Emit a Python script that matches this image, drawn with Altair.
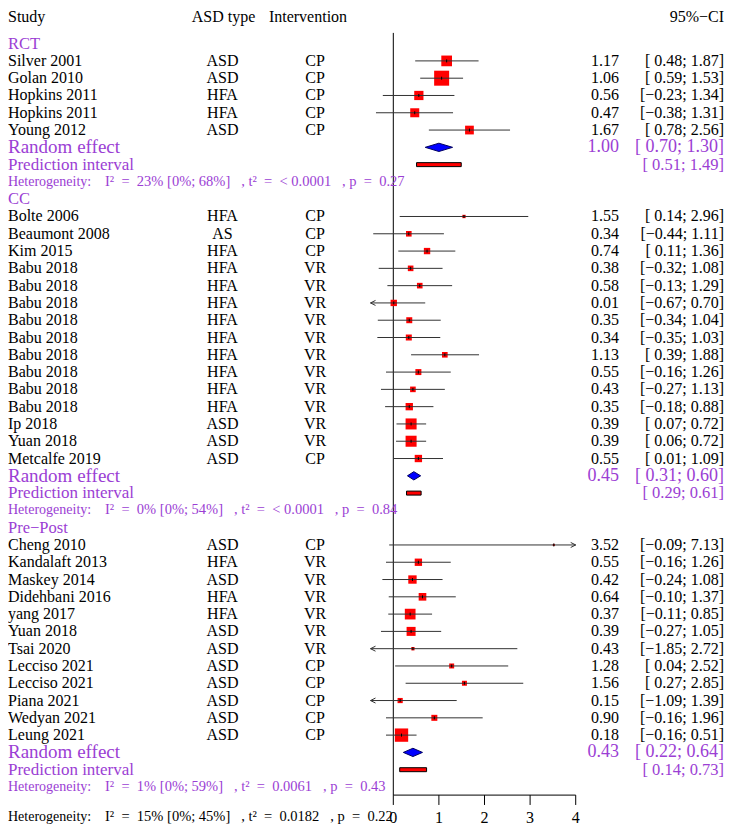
import altair as alt
import pandas as pd

# ---------------- data ----------------
groups = ["RCT", "CC", "Pre\u2212Post"]

studies = [
    "Silver 2001", "Golan 2010", "Hopkins 2011", "Hopkins 2011", "Young 2012",
    "Bolte 2006", "Beaumont 2008", "Kim 2015", "Babu 2018", "Babu 2018", "Babu 2018",
    "Babu 2018", "Babu 2018", "Babu 2018", "Babu 2018", "Babu 2018", "Babu 2018",
    "Ip 2018", "Yuan 2018", "Metcalfe 2019",
    "Cheng 2010", "Kandalaft 2013", "Maskey 2014", "Didehbani 2016", "yang 2017",
    "Yuan 2018", "Tsai 2020", "Lecciso 2021", "Lecciso 2021", "Piana 2021",
    "Wedyan 2021", "Leung 2021",
]
group_of = ["RCT"] * 5 + ["CC"] * 15 + ["Pre\u2212Post"] * 12
asd_type = [
    "ASD", "ASD", "HFA", "HFA", "ASD",
    "HFA", "AS", "HFA", "HFA", "HFA", "HFA", "HFA", "HFA", "HFA", "HFA", "HFA", "HFA",
    "ASD", "ASD", "ASD",
    "ASD", "HFA", "ASD", "HFA", "HFA", "ASD", "ASD", "ASD", "ASD", "ASD", "ASD", "ASD",
]
intervention = [
    "CP", "CP", "CP", "CP", "CP",
    "CP", "CP", "CP", "VR", "VR", "VR", "VR", "VR", "VR", "VR", "VR", "VR",
    "VR", "VR", "CP",
    "CP", "VR", "VR", "VR", "VR", "VR", "VR", "CP", "CP", "CP", "CP", "CP",
]
smd = [1.17, 1.06, 0.56, 0.47, 1.67,
       1.55, 0.34, 0.74, 0.38, 0.58, 0.01, 0.35, 0.34, 1.13, 0.55, 0.43, 0.35,
       0.39, 0.39, 0.55,
       3.52, 0.55, 0.42, 0.64, 0.37, 0.39, 0.43, 1.28, 1.56, 0.15, 0.90, 0.18]
ci_low = [0.48, 0.59, -0.23, -0.38, 0.78,
          0.14, -0.44, 0.11, -0.32, -0.13, -0.67, -0.34, -0.35, 0.39, -0.16, -0.27, -0.18,
          0.07, 0.06, 0.01,
          -0.09, -0.16, -0.24, -0.10, -0.11, -0.27, -1.85, 0.04, 0.27, -1.09, -0.16, -0.16]
ci_high = [1.87, 1.53, 1.34, 1.31, 2.56,
           2.96, 1.11, 1.36, 1.08, 1.29, 0.70, 1.04, 1.03, 1.88, 1.26, 1.13, 0.88,
           0.72, 0.72, 1.09,
           7.13, 1.26, 1.08, 1.37, 0.85, 1.05, 2.72, 2.52, 2.85, 1.39, 1.96, 0.51]
weights = [5.1, 10.0, 3.8, 3.6, 3.4,
           0.5, 1.4, 1.8, 1.4, 1.4, 1.8, 1.6, 1.6, 1.4, 1.6, 1.4, 2.4,
           5.4, 5.4, 2.4,
           0.2, 2.4, 3.1, 2.6, 5.1, 3.6, 0.5, 1.1, 1.1, 1.2, 1.6, 7.9]

pooled_est = [1.00, 0.45, 0.43]
pooled_low = [0.70, 0.31, 0.22]
pooled_high = [1.30, 0.60, 0.64]
pi_low = [0.51, 0.29, 0.14]
pi_high = [1.49, 0.61, 0.73]
het_i2 = ["23% [0%; 68%]", "0% [0%; 54%]", "1% [0%; 59%]"]
het_tau2 = ["< 0.0001", "< 0.0001", "0.0061"]
het_p = ["0.27", "0.84", "0.43"]
overall_i2 = "15% [0%; 45%]"
overall_tau2 = "0.0182"
overall_p = "0.22"
axis_ticks = [0, 1, 2, 3, 4]

# ---------------- helpers ----------------
NB = "\u00a0"
PURPLE = "#9b3ed4"
FONT = "Liberation Serif"
CLIP_LO, CLIP_HI = -0.5, 4.0


def fmt(v):
    return f"{v:.2f}".replace("-", "\u2212")


def fmt_ci(lo, hi):
    return "[" + (" " if lo >= 0 else "") + fmt(lo) + "; " + fmt(hi) + "]"


def het_stats(i2, t2, p):
    eq = NB * 2 + "=" + NB * 2
    return ("I\u00b2" + eq + i2 + NB * 3 + "," + NB + "t\u00b2" + eq + t2
            + NB * 3 + "," + NB + "p" + eq + p)


# ---------------- row layout ----------------
study_rows, label_rows, random_rows, pi_rows, het_rows = [], [], [], [], []
r = 0
for g in groups:
    label_rows.append(r)
    r += 1
    for i, gg in enumerate(group_of):
        if gg == g:
            study_rows.append(r)
            r += 1
    random_rows.append(r)
    r += 1
    pi_rows.append(r)
    r += 1
    het_rows.append(r)
    r += 1

HEADER_ROW = -1.55
AXIS_ROW = 43.47
TICK_END = 44.04
AXIS_LABEL_ROW = 44.8
OVERALL_ROW = 44.75
ZERO_TOP = -0.62

st = pd.DataFrame({
    "study": studies, "asd": asd_type, "intv": intervention,
    "est": smd, "lo": ci_low, "hi": ci_high, "w": weights, "row": study_rows,
})
st["lo_c"] = st["lo"].clip(lower=CLIP_LO)
st["hi_c"] = st["hi"].clip(upper=CLIP_HI)
st["est_txt"] = st["est"].map(fmt)
st["ci_txt"] = [fmt_ci(a, b) for a, b in zip(st["lo"], st["hi"])]

pooled = pd.DataFrame({
    "group": groups, "est": pooled_est, "lo": pooled_low, "hi": pooled_high,
    "plo": pi_low, "phi": pi_high, "row": random_rows, "prow": pi_rows,
})
pooled["est_txt"] = pooled["est"].map(fmt)
pooled["ci_txt"] = [fmt_ci(a, b) for a, b in zip(pooled["lo"], pooled["hi"])]
pooled["pi_txt"] = [fmt_ci(a, b) for a, b in zip(pooled["plo"], pooled["phi"])]
pooled["prow_lo"] = pooled["prow"] - 0.115
pooled["prow_hi"] = pooled["prow"] + 0.115

# diamond polygon points built from pooled estimates
dia = []
for _, p in pooled.iterrows():
    dia.append({"group": p["group"], "x": p["lo"], "y1": p["row"], "y2": p["row"]})
    dia.append({"group": p["group"], "x": p["est"], "y1": p["row"] - 0.24, "y2": p["row"] + 0.24})
    dia.append({"group": p["group"], "x": p["hi"], "y1": p["row"], "y2": p["row"]})
dia = pd.DataFrame(dia)

# ---------------- scales ----------------
W, H = 717, 819
xs = alt.Scale(domain=[-8.4496, 7.274], nice=False, zero=False)
ys = alt.Scale(domain=[-2.0023, 45.257], nice=False, zero=False, reverse=True)


def X(f):
    return alt.X(f, type="quantitative", scale=xs, axis=None)


def Y(f):
    return alt.Y(f, type="quantitative", scale=ys, axis=None)


def X2(f):
    return alt.X2(f)


def Y2(f):
    return alt.Y2(f)


def text_layer(df, field, x_px, align, size, color, row_field="row"):
    return alt.Chart(df).mark_text(
        align=align, baseline="middle", font=FONT, fontSize=size, color=color,
    ).encode(x=alt.value(x_px), y=Y(row_field), text=alt.Text(field, type="nominal"))


layers = []

# zero line and axis
zero_df = pd.DataFrame({"x": [0], "y1": [ZERO_TOP], "y2": [AXIS_ROW]})
layers.append(alt.Chart(zero_df).mark_rule(color="black", strokeWidth=1).encode(
    x=X("x"), y=Y("y1"), y2=Y2("y2")))
ax_df = pd.DataFrame({"x1": [min(axis_ticks)], "x2": [max(axis_ticks)], "y": [AXIS_ROW]})
layers.append(alt.Chart(ax_df).mark_rule(color="black", strokeWidth=1).encode(
    x=X("x1"), x2=X2("x2"), y=Y("y")))
tk_df = pd.DataFrame({"x": axis_ticks, "y1": AXIS_ROW, "y2": TICK_END,
                      "lab": [str(t) for t in axis_ticks], "ly": AXIS_LABEL_ROW})
layers.append(alt.Chart(tk_df).mark_rule(color="black", strokeWidth=1).encode(
    x=X("x"), y=Y("y1"), y2=Y2("y2")))
layers.append(alt.Chart(tk_df).mark_text(font=FONT, fontSize=16, color="black",
                                         baseline="middle", align="center").encode(
    x=X("x"), y=Y("ly"), text="lab:N"))

# squares
layers.append(alt.Chart(st).mark_square(color="#ff0000", opacity=1, strokeWidth=0).encode(
    x=X("est"), y=Y("row"),
    size=alt.Size("w:Q", scale=alt.Scale(domain=[0, 10], range=[0, 225]), legend=None)))
# CI lines
layers.append(alt.Chart(st).mark_rule(color="#333333", strokeWidth=1).encode(
    x=X("lo_c"), x2=X2("hi_c"), y=Y("row")))
# estimate ticks
layers.append(alt.Chart(st).mark_point(shape="M0,-1L0,1", size=9, color="#000000",
                                       strokeWidth=1, filled=False, opacity=1).encode(
    x=X("est"), y=Y("row")))
# arrows
left_arr = st[st["lo"] < CLIP_LO]
right_arr = st[st["hi"] > CLIP_HI]
layers.append(alt.Chart(left_arr).mark_point(shape="M0,0L1,-0.5M0,0L1,0.5", size=100,
                                             color="#333333", filled=False, strokeWidth=1,
                                             opacity=1).encode(x=X("lo_c"), y=Y("row")))
layers.append(alt.Chart(right_arr).mark_point(shape="M0,0L-1,-0.5M0,0L-1,0.5", size=100,
                                              color="#333333", filled=False, strokeWidth=1,
                                              opacity=1).encode(x=X("hi_c"), y=Y("row")))

# diamonds
layers.append(alt.Chart(dia).mark_area(color="#0000ff", fill="#0000ff", stroke="#000060",
                                       strokeWidth=1, opacity=1).encode(
    x=X("x"), y=alt.Y("y1", type="quantitative", scale=ys, axis=None, stack=None),
    y2=Y2("y2"), detail="group:N"))
# prediction bars
layers.append(alt.Chart(pooled).mark_rect(fill="#ff0000", stroke="black", strokeWidth=1).encode(
    x=X("plo"), x2=X2("phi"), y=Y("prow_lo"), y2=Y2("prow_hi")))

# header
hdr = pd.DataFrame({"row": [HEADER_ROW], "a": ["Study"], "b": ["ASD type"],
                    "c": ["Intervention"], "d": ["95%\u2212CI"]})
layers.append(text_layer(hdr, "a", 0, "left", 16, "black"))
layers.append(text_layer(hdr, "b", 215.5, "center", 16, "black"))
layers.append(text_layer(hdr, "c", 300, "center", 16, "black"))
layers.append(text_layer(hdr, "d", 716, "right", 16, "black"))

# group labels
gl = pd.DataFrame({"row": label_rows, "g": groups})
layers.append(text_layer(gl, "g", 0, "left", 16.5, PURPLE))

# study columns
layers.append(text_layer(st, "study", 0, "left", 16, "black"))
layers.append(text_layer(st, "asd", 214.5, "center", 16, "black"))
layers.append(text_layer(st, "intv", 307, "center", 16, "black"))
layers.append(text_layer(st, "est_txt", 611, "right", 16, "black"))
layers.append(text_layer(st, "ci_txt", 716, "right", 16, "black"))

# pooled rows
pooled["re_lab"] = "Random effect"
pooled["pi_lab"] = "Prediction interval"
layers.append(text_layer(pooled, "re_lab", 0, "left", 19, PURPLE))
layers.append(text_layer(pooled, "est_txt", 611, "right", 18, PURPLE))
layers.append(text_layer(pooled, "ci_txt", 716, "right", 18, PURPLE))
layers.append(text_layer(pooled, "pi_lab", 0, "left", 17, PURPLE, row_field="prow"))
layers.append(text_layer(pooled, "pi_txt", 716, "right", 16.5, PURPLE, row_field="prow"))

# heterogeneity
het = pd.DataFrame({"row": het_rows, "h": "Heterogeneity:",
                    "t": [het_stats(a, b, c) for a, b, c in zip(het_i2, het_tau2, het_p)]})
layers.append(text_layer(het, "h", 0, "left", 14, PURPLE))
layers.append(text_layer(het, "t", 97, "left", 14.5, PURPLE))
ov = pd.DataFrame({"row": [OVERALL_ROW], "h": ["Heterogeneity:"],
                   "t": [het_stats(overall_i2, overall_tau2, overall_p)]})
layers.append(text_layer(ov, "h", 0, "left", 14, "black"))
layers.append(text_layer(ov, "t", 97, "left", 14.5, "black"))

chart = alt.layer(*layers).properties(
    width=W, height=H, padding=0,
    autosize=alt.AutoSizeParams(type="fit", contains="padding"),
).configure_view(stroke=None)

chart.save("out.html", embed_options={"renderer": "svg", "actions": False})
